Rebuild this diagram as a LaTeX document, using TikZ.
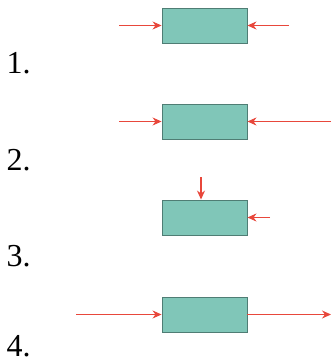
\documentclass[tikz,border=0pt]{standalone}
\usepackage{fontspec}
\setmainfont{Liberation Serif}
\usetikzlibrary{arrows.meta}
\definecolor{boxfill}{HTML}{80C6B8}
\definecolor{boxline}{HTML}{4F7D74}
\definecolor{force}{HTML}{E8473B}
\tikzset{
  block/.style={draw=boxline, fill=boxfill, line width=0.9pt, minimum width=85pt, minimum height=35pt, inner sep=0pt},
  forcearrow/.style={draw=force, line width=1.2pt, -{Stealth[length=9pt,width=8pt]}},
  numlabel/.style={anchor=base west, inner sep=0pt, font=\fontsize{32}{32}\selectfont}
}
\begin{document}
\begin{tikzpicture}[x=1pt,y=-1pt]
  \useasboundingbox (0,0) rectangle (331,363);

  % case 1: two opposing forces pushing inward
  \node[block] (b1) at (204.5,25.5) {};
  \coordinate (l1) at (119,25.5);
  \coordinate (r1) at (289,25.5);
  \draw[forcearrow] (l1) -- (b1.west);
  \draw[forcearrow] (r1) -- (b1.east);
  \node[numlabel] (n1) at (6.5,74) {1.};

  % case 2: inward forces, right one longer
  \node[block] (b2) at (204.5,121.5) {};
  \coordinate (l2) at (119,121.5);
  \coordinate (r2) at (331,121.5);
  \draw[forcearrow] (l2) -- (b2.west);
  \draw[forcearrow] (r2) -- (b2.east);
  \node[numlabel] (n2) at (6.5,171) {2.};

  % case 3: force from above and from the right
  \node[block] (b3) at (204.5,217.5) {};
  \coordinate (t3) at (201,177);
  \coordinate (r3) at (270,217.5);
  \draw[forcearrow] (t3) -- (t3 |- b3.north);
  \draw[forcearrow] (r3) -- (b3.east);
  \node[numlabel] (n3) at (6.5,266) {3.};

  % case 4: force in, force out on the same line
  \node[block] (b4) at (204.5,314.5) {};
  \coordinate (l4) at (76,314.5);
  \coordinate (r4) at (331,314.5);
  \draw[forcearrow] (l4) -- (b4.west);
  \draw[forcearrow] (b4.east) -- (r4);
  \node[numlabel] (n4) at (6.5,356) {4.};
\end{tikzpicture}
\end{document}
